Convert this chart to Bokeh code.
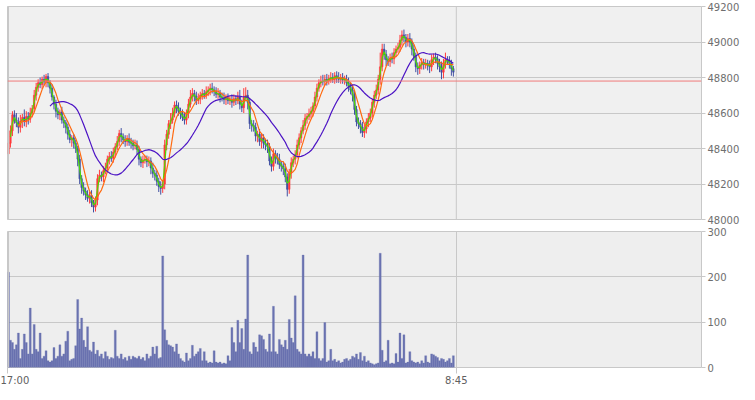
import pandas as pd
from bokeh.plotting import figure
from bokeh.layouts import column
from bokeh.models import Range1d, FixedTicker, Span, ColumnDataSource
from bokeh.embed import file_html
from bokeh.resources import INLINE

# ---------------- data ----------------
first_open = 48370
closes = [
    48430, 48500, 48590, 48560, 48545, 48520, 48555, 48575, 48550, 48580,
    48565, 48600, 48625, 48700, 48745, 48770, 48760, 48790, 48775, 48805,
    48770, 48740, 48690, 48650, 48610, 48590, 48605, 48560, 48545, 48520,
    48480, 48450, 48460, 48430, 48400, 48340, 48230, 48180, 48160, 48140,
    48120, 48135, 48095, 48070, 48110, 48230, 48250, 48240, 48275, 48290,
    48340, 48355, 48345, 48380, 48410, 48440, 48485, 48465, 48450, 48440,
    48455, 48435, 48430, 48415, 48420, 48395, 48340, 48320, 48335, 48340,
    48325, 48330, 48290, 48260, 48250, 48215, 48185, 48175, 48200, 48420,
    48480, 48540, 48560, 48600, 48645, 48630, 48610, 48595, 48575, 48560,
    48600, 48650, 48690, 48710, 48695, 48670, 48680, 48700, 48710, 48700,
    48720, 48730, 48740, 48730, 48720, 48705, 48710, 48690, 48685, 48675,
    48685, 48670, 48675, 48660, 48680, 48670, 48690, 48650, 48630, 48690,
    48700, 48660, 48540, 48530, 48520, 48470, 48480, 48440, 48460, 48430,
    48420, 48410, 48330, 48300, 48370, 48350, 48340, 48310, 48300, 48285,
    48240, 48170, 48260, 48320, 48340, 48365, 48420, 48460, 48500, 48530,
    48570, 48580, 48595, 48610, 48640, 48690, 48740, 48770, 48780, 48775,
    48790, 48780, 48795, 48800, 48790, 48810, 48800, 48790, 48800, 48785,
    48790, 48770, 48750, 48730, 48700, 48620, 48550, 48540, 48520, 48490,
    48510, 48550, 48570, 48600, 48660, 48700, 48730, 48790, 48860, 48960,
    48930, 48900, 48890, 48910, 48905, 48940, 48960, 48970, 49010, 49040,
    49025, 49000, 49020, 49000, 48960, 48920, 48860, 48850, 48870, 48885,
    48875, 48880, 48870, 48860, 48900, 48915, 48905, 48880, 48860, 48830,
    48880, 48900, 48895, 48880, 48850, 48830,
]
# how far each bar's high / low reaches beyond its body
wick_up = [
    5, 30, 20, 25, 40, 30, 35, 20, 45, 30,
    25, 30, 20, 30, 25, 20, 30, 15, 25, 15,
    20, 15, 20, 10, 25, 20, 15, 30, 20, 15,
    20, 25, 15, 20, 20, 15, 25, 20, 30, 20,
    25, 20, 30, 15, 20, 25, 30, 20, 25, 30,
    20, 25, 30, 25, 20, 30, 20, 30, 20, 25,
    20, 30, 25, 20, 30, 25, 20, 15, 25, 20,
    20, 25, 20, 30, 20, 25, 20, 30, 20, 30,
    25, 20, 40, 30, 20, 25, 30, 20, 25, 30,
    20, 30, 40, 30, 20, 25, 30, 20, 25, 20,
    30, 20, 25, 30, 20, 25, 30, 20, 25, 30,
    20, 25, 20, 30, 25, 20, 30, 40, 25, 50,
    45, 30, 25, 20, 30, 25, 20, 30, 25, 20,
    25, 30, 20, 25, 30, 20, 25, 30, 20, 25,
    30, 20, 25, 30, 20, 25, 30, 25, 20, 30,
    25, 20, 30, 25, 20, 30, 25, 20, 30, 35,
    25, 30, 20, 30, 25, 20, 25, 30, 20, 25,
    20, 25, 30, 20, 25, 30, 20, 25, 20, 30,
    25, 20, 30, 25, 20, 25, 30, 25, 80, 30,
    30, 25, 20, 25, 30, 25, 20, 25, 30, 25,
    30, 20, 25, 30, 20, 25, 20, 25, 20, 25,
    20, 25, 20, 25, 30, 20, 25, 20, 25, 30,
    25, 40, 20, 25, 20, 15,
]
wick_dn = [
    10, 25, 30, 20, 25, 35, 30, 40, 25, 30,
    30, 20, 25, 20, 30, 25, 20, 25, 20, 30,
    25, 30, 20, 30, 35, 25, 30, 20, 30, 35,
    30, 20, 40, 30, 25, 40, 30, 35, 25, 30,
    20, 30, 25, 30, 25, 30, 20, 25, 30, 20,
    25, 30, 20, 25, 30, 20, 25, 30, 25, 30,
    25, 20, 30, 25, 20, 30, 35, 25, 30, 20,
    30, 25, 35, 25, 30, 25, 30, 35, 25, 30,
    30, 25, 30, 20, 25, 30, 25, 30, 20, 25,
    25, 30, 20, 25, 30, 25, 20, 30, 25, 20,
    20, 25, 30, 20, 25, 20, 25, 30, 20, 25,
    30, 20, 25, 30, 20, 25, 20, 30, 25, 30,
    25, 40, 30, 35, 25, 30, 35, 25, 40, 30,
    30, 35, 25, 30, 25, 35, 30, 25, 30, 35,
    30, 40, 25, 30, 25, 30, 20, 25, 30, 20,
    25, 30, 20, 25, 30, 20, 25, 20, 25, 20,
    20, 25, 20, 25, 20, 25, 30, 20, 25, 20,
    25, 20, 30, 25, 35, 30, 25, 30, 35, 25,
    30, 25, 30, 20, 25, 30, 20, 25, 30, 25,
    30, 35, 25, 30, 25, 30, 25, 20, 25, 30,
    25, 30, 25, 30, 35, 25, 30, 35, 30, 25,
    30, 25, 30, 35, 25, 30, 25, 35, 30, 40,
    35, 30, 25, 30, 40, 25,
]
volumes = [
    210, 60, 55, 40, 50, 76, 20, 40, 74, 55,
    30, 131, 30, 95, 40, 35, 76, 20, 25, 37,
    15, 12, 15, 44, 20, 25, 50, 25, 30, 58,
    80, 15, 18, 20, 48, 150, 85, 109, 60, 45,
    90, 38, 35, 56, 30, 38, 25, 30, 20, 35,
    25, 18, 22, 20, 82, 25, 20, 30, 18, 22,
    15, 25, 18, 25, 22, 20, 25, 18, 22, 15,
    30, 20, 25, 45, 30, 47, 20, 22, 246, 83,
    60, 50, 48, 45, 35, 52, 30, 20, 15, 12,
    32, 15, 20, 49, 25, 30, 35, 42, 15, 35,
    15, 10, 12, 10, 37, 12, 10, 12, 8, 10,
    8, 26, 15, 88, 55, 35, 104, 55, 86, 40,
    107, 248, 35, 30, 55, 45, 35, 72, 70, 62,
    40, 35, 74, 35, 135, 35, 30, 62, 50, 45,
    60, 40, 106, 65, 55, 158, 40, 35, 30, 248,
    30, 25, 30, 25, 35, 20, 79, 20, 15, 20,
    99, 12, 15, 40, 15, 18, 12, 15, 10, 12,
    18, 20, 15, 18, 25, 22, 30, 18, 33, 15,
    25, 12, 15, 10, 8, 6, 8, 10, 252, 38,
    12, 15, 60, 8, 10, 8, 31, 12, 76, 20,
    72, 10, 12, 35, 15, 12, 10, 12, 8, 15,
    10, 26, 12, 10, 30, 28, 25, 22, 15, 20,
    18, 12, 15, 20, 10, 26,
]
ma_windows = [2, 6, 22]          # short, middle, long moving averages
price_ticks = [48000, 48200, 48400, 48600, 48800, 49000, 49200]
volume_ticks = [0, 100, 200, 300]
time_tick_positions = [0, 227]
time_tick_labels = ["17:00", "8:45"]
reference_price = 48780
session_break = 227
total_slots = 351

# ---------------- derived ----------------
n = len(closes)
xs = [i + 0.5 for i in range(n)]
opens = [first_open] + closes[:-1]
highs = [max(o, c) + w for o, c, w in zip(opens, closes, wick_up)]
lows = [min(o, c) - w for o, c, w in zip(opens, closes, wick_dn)]
UP, DOWN = "#ff3a3a", "#4050a2"
colors = [UP if c >= o else DOWN for o, c in zip(opens, closes)]
cs = pd.Series(closes, dtype=float)
ma_short = cs.rolling(ma_windows[0]).mean()
ma_mid = cs.rolling(ma_windows[1]).mean()
ma_long = cs.rolling(ma_windows[2]).mean()

src = ColumnDataSource(dict(x=xs, o=opens, c=closes, h=highs, lo=lows, col=colors,
                            v=volumes, s=ma_short, m=ma_mid, l=ma_long))

GRID = "#c8c8c8"
LABEL = "#6e6e6e"
FONT = "DejaVu Sans"

def style_right_axis(p, ticks):
    ax = p.yaxis[0]
    ax.ticker = FixedTicker(ticks=ticks)
    ax.axis_line_color = None
    ax.major_tick_line_color = GRID
    ax.major_tick_out = 4
    ax.major_tick_in = 0
    ax.minor_tick_line_color = None
    ax.major_label_text_color = LABEL
    ax.major_label_text_font = FONT
    ax.major_label_text_font_size = "10px"
    ax.major_label_standoff = 2
    p.ygrid.ticker = FixedTicker(ticks=ticks)
    p.ygrid.grid_line_color = GRID

# ---------------- price panel ----------------
p1 = figure(frame_width=694, frame_height=213,
            x_range=Range1d(0, total_slots), y_range=Range1d(price_ticks[0], price_ticks[-1]),
            y_axis_location="right", x_axis_location=None,
            output_backend="svg", toolbar_location=None,
            min_border_left=7, min_border_right=38, min_border_top=6, min_border_bottom=6)
p1.background_fill_color = "#f0f0f0"
p1.border_fill_color = "white"
p1.outline_line_color = GRID
p1.xgrid.visible = False
style_right_axis(p1, price_ticks)
p1.add_layout(Span(location=session_break, dimension="height", line_color=GRID, line_width=1))
p1.add_layout(Span(location=0, dimension="height", line_color=GRID, line_width=3))
p1.add_layout(Span(location=reference_price, dimension="width", line_color="#f07a7a", line_width=1))

p1.segment(x0="x", y0="lo", x1="x", y1="h", line_color="col", line_width=1, source=src)
p1.vbar(x="x", width=0.8, top="c", bottom="o", fill_color="col", line_color="col",
        line_width=0.5, source=src)
p1.line("x", "s", source=src, line_color="#4cdc00", line_width=1.2)
p1.line("x", "m", source=src, line_color="#ff6a10", line_width=1.2)
p1.line("x", "l", source=src, line_color="#4b12c4", line_width=1.2)

# ---------------- volume panel ----------------
p2 = figure(frame_width=694, frame_height=136,
            x_range=p1.x_range, y_range=Range1d(volume_ticks[0], volume_ticks[-1]),
            y_axis_location="right", x_axis_location="below",
            output_backend="svg", toolbar_location=None,
            min_border_left=7, min_border_right=38, min_border_top=6, min_border_bottom=17)
p2.background_fill_color = "#eeeeee"
p2.border_fill_color = "white"
p2.outline_line_color = GRID
style_right_axis(p2, volume_ticks)
xa = p2.xaxis[0]
xa.ticker = FixedTicker(ticks=time_tick_positions)
xa.major_label_overrides = {pos: lab for pos, lab in zip(time_tick_positions, time_tick_labels)}
xa.axis_line_color = None
xa.major_tick_line_color = GRID
xa.major_tick_out = 6
xa.major_tick_in = 0
xa.minor_tick_line_color = None
xa.major_label_text_color = "#606060"
xa.major_label_text_font = FONT
xa.major_label_text_font_size = "10px"
xa.major_label_standoff = 1
p2.xgrid.ticker = FixedTicker(ticks=time_tick_positions)
p2.xgrid.grid_line_color = GRID
p2.add_layout(Span(location=0, dimension="height", line_color=GRID, line_width=3))

p2.vbar(x="x", width=1.0, top="v", bottom=0, fill_color="#6a72b0", line_color="#6a72b0",
        line_width=0.3, source=src)

layout = column(p1, p2, spacing=0)
open("out.html", "w").write(file_html(layout, INLINE))
